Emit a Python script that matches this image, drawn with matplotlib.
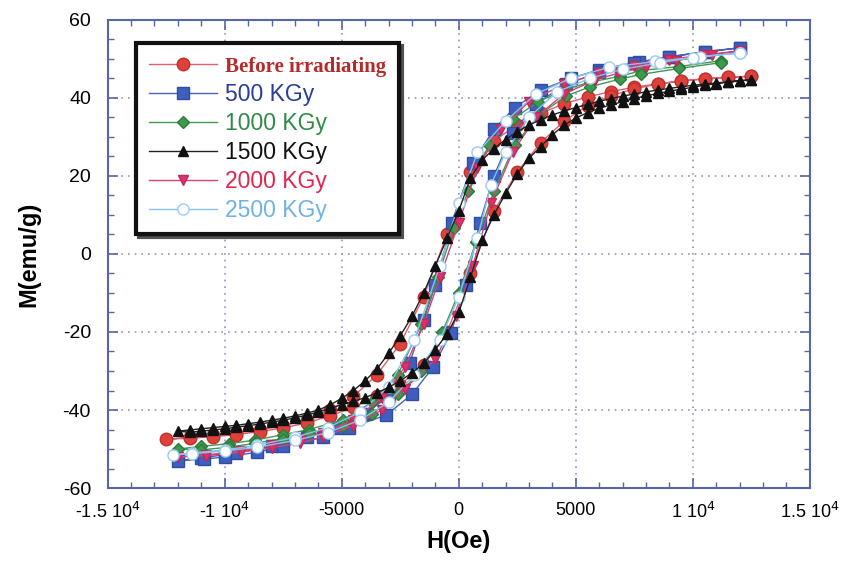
import matplotlib
matplotlib.use("Agg")
import matplotlib.pyplot as plt
from matplotlib.ticker import MultipleLocator, FixedLocator, FixedFormatter

plt.rcParams['font.family'] = ['Liberation Sans', 'DejaVu Sans']
plt.rcParams['axes.unicode_minus'] = False

# ---- data (H in Oe, M in emu/g) ----
# each loop: descending branch (+H -> -H) followed by ascending branch (-H -> +H)

# Before irradiating
h_before = [12500, 11500, 10500, 9500, 8500, 7500, 6500, 5500, 4500, 3500, 2500, 1500, 500,
            -500, -1500, -2500, -3500, -4500, -5500, -6500, -7500, -8500, -9500, -10500, -11500, -12500,
            -11500, -10500, -9500, -8500, -7500, -6500, -5500, -4500, -3500, -2500, -1500, -500,
            500, 1500, 2500, 3500, 4500, 5500, 6500, 7500, 8500, 9500, 10500, 11500, 12500]
m_before = [45.5, 45.2, 44.8, 44.3, 43.6, 42.7, 41.6, 40.2, 38.5, 36.0, 33.0, 29.0, 21.0,
            5.0, -11.0, -23.0, -31.0, -36.5, -40.0, -42.5, -44.0, -45.0, -45.8, -46.5, -47.0, -47.5,
            -47.2, -46.8, -46.3, -45.5, -44.6, -43.3, -41.5, -39.3, -36.5, -33.5, -28.5, -20.0,
            -5.0, 11.0, 21.0, 28.5, 34.0, 38.0, 40.5, 42.3, 43.5, 44.3, 44.9, 45.3, 45.5]

# 500 KGy
h_500 = [12000, 10500, 9000, 7700, 6000, 4800, 3500, 2400, 1500, 600, -300, -1000, -1500, -2100,
         -3000, -4000, -5200, -6500, -8000, -9500, -11000, -12000,
         -10900, -10000, -8600, -7500, -5800, -4700, -3100, -2000, -1100, -340, 300, 900, 1500,
         2300, 3300, 4600, 6000, 7500, 9000, 10500, 12000]
m_500 = [52.8, 51.7, 50.5, 49.2, 47.2, 45.0, 42.0, 37.5, 32.0, 23.3, 8.0, -8.0, -17.0, -28.0,
         -36.5, -41.0, -44.5, -47.0, -49.3, -51.0, -52.3, -53.0,
         -52.6, -52.0, -50.8, -49.2, -47.0, -44.6, -41.3, -36.0, -29.0, -20.3, -8.0, 8.0, 20.0,
         31.0, 38.5, 43.5, 46.5, 48.8, 50.5, 51.8, 52.8]

# 1000 KGy
h_1000 = [11200, 9400, 7800, 6900, 5600, 4500, 3400, 2300, 1300, 400, -210, -900, -1600, -2600,
          -3700, -4950, -6400, -7500, -8700, -9800, -11000, -12000,
          -11000, -9800, -8700, -7500, -6400, -4950, -3700, -2600, -1600, -700, 0, 730, 1500,
          2400, 3400, 4600, 5600, 6900, 7800, 9400, 11200]
m_1000 = [49.5, 48.0, 47.0, 45.5, 44.0, 42.0, 39.0, 34.5, 28.0, 16.0, 6.7, -6.0, -18.0, -31.0,
          -38.0, -42.5, -45.0, -46.3, -47.7, -48.6, -49.3, -50.0,
          -50.2, -49.5, -48.5, -47.3, -46.0, -44.0, -41.0, -36.0, -30.0, -20.0, -10.0, 3.0, 16.0,
          28.0, 35.5, 40.5, 42.8, 44.8, 46.0, 47.5, 49.0]

# 1500 KGy
h_1500 = [12500, 12000, 11500, 11000, 10500, 10000, 9500, 9000, 8500, 8000, 7500, 7000, 6500,
          6000, 5500, 5000, 4500, 4000, 3500, 3000, 2500, 2000, 1500, 1000, 500, 0, -500, -1000,
          -1500, -2000, -2500, -3000, -3500, -4000, -4500, -5000, -5500, -6000, -6500, -7000,
          -7500, -8000, -8500, -9000, -9500, -10000, -10500, -11000, -11500, -12000,
          -11500, -11000, -10500, -10000, -9500, -9000, -8500, -8000, -7500, -7000, -6500,
          -6000, -5500, -5000, -4500, -4000, -3500, -3000, -2500, -2000, -1500, -1000, -500, 0,
          500, 1000, 1500, 2000, 2500, 3000, 3500, 4000, 4500, 5000, 5500, 6000, 6500, 7000,
          7500, 8000, 8500, 9000, 9500, 10000, 10500, 11000, 11500, 12000, 12500]
m_1500 = [44.6, 44.4, 44.1, 43.8, 43.5, 43.2, 42.8, 42.4, 42.0, 41.5, 41.0, 40.4, 39.8,
          39.1, 38.3, 37.5, 36.6, 35.6, 34.4, 33.0, 31.3, 29.3, 27.0, 24.0, 19.5, 11.0, 4.0, -3.0,
          -10.0, -16.0, -21.0, -25.5, -29.5, -32.5, -35.0, -37.0, -38.7, -40.0, -40.8, -41.5,
          -42.1, -42.6, -43.1, -43.5, -43.9, -44.2, -44.5, -44.8, -45.1, -45.4,
          -45.7, -45.4, -45.1, -44.8, -44.4, -44.0, -43.6, -43.1, -42.6, -42.0, -41.3,
          -40.5, -39.6, -38.6, -37.8, -36.8, -35.6, -34.2, -32.5, -30.5, -28.0, -24.5, -20.5, -15.0,
          -6.0, 3.5, 10.0, 15.5, 20.5, 24.5, 27.5, 30.5, 33.0, 34.8, 36.2, 37.3, 38.2, 39.0,
          39.8, 40.5, 41.1, 41.7, 42.2, 42.7, 43.2, 43.6, 44.0, 44.3, 44.6]

# 2000 KGy
h_2000 = [12000, 10500, 9000, 7500, 6000, 4500, 3000, 1800, 800, 0, -800, -1500, -2300, -3300,
          -4500, -5800, -6800, -8000, -9300, -10800, -12000,
          -10800, -9300, -8000, -6800, -5800, -4500, -3300, -2300, -1000, -100, 600, 1370, 2300,
          3300, 4500, 5800, 6800, 8000, 9300, 10800, 12000]
m_2000 = [52.0, 51.0, 49.8, 48.2, 46.3, 43.5, 39.0, 32.0, 22.0, 8.0, -6.0, -18.0, -29.0, -37.0,
          -42.5, -45.8, -47.5, -49.0, -50.5, -51.5, -52.0,
          -51.7, -50.8, -49.6, -48.5, -46.8, -44.0, -40.0, -34.5, -27.0, -16.0, -3.0, 13.0, 26.0,
          35.0, 41.0, 44.5, 46.3, 48.0, 49.5, 51.0, 52.0]

# 2500 KGy
h_2500 = [12000, 10300, 8400, 6400, 4800, 3300, 2000, 800, 0, -800, -1900, -3000, -4200, -5600,
          -7000, -8600, -10000, -11400, -12200,
          -11400, -10000, -8600, -7000, -5600, -4200, -3000, -1900, -800, 0, 800, 1370, 2000,
          3000, 4200, 5600, 7000, 8600, 10000, 12000]
m_2500 = [51.5, 50.5, 49.3, 47.8, 45.0, 41.0, 34.0, 26.0, 13.0, -3.0, -22.0, -34.0, -40.5, -44.5,
          -47.0, -49.0, -50.2, -51.0, -51.5,
          -51.2, -50.5, -49.5, -47.8, -45.8, -42.5, -38.0, -31.0, -22.0, -11.0, 4.0, 17.7, 26.0,
          35.0, 41.5, 45.0, 47.3, 49.0, 50.3, 51.5]

labels = ['Before irradiating', '500 KGy', '1000 KGy', '1500 KGy', '2000 KGy', '2500 KGy']

x_ticks = [-15000, -10000, -5000, 0, 5000, 10000, 15000]
x_tick_labels = ['-1.5 10$^4$', '-1 10$^4$', '-5000', '0', '5000', '1 10$^4$', '1.5 10$^4$']
y_ticks = [-60, -40, -20, 0, 20, 40, 60]


def main():
    fig = plt.figure(figsize=(8.41, 5.63), dpi=100)
    ax = fig.add_axes([0.128, 0.133, 0.835, 0.832])

    frame = '#5566aa'
    ax.grid(True, linestyle=(0, (1, 3)), color='#8c96c8', linewidth=1.2)
    ax.set_axisbelow(True)

    ax.plot(h_before, m_before, '-o', color='#e06070', mfc='#e0403a', mec='#c03030',
            ms=9, lw=1.0, label=labels[0], zorder=3)
    ax.plot(h_500, m_500, '-s', color='#4a62b8', mfc='#3e5fbf', mec='#2f4ea0',
            ms=9, lw=1.0, label=labels[1], zorder=3)
    ax.plot(h_1000, m_1000, '-D', color='#3f9a55', mfc='#3c9a4c', mec='#2c7a3a',
            ms=6.5, lw=1.0, label=labels[2], zorder=3)
    ax.plot(h_2000, m_2000, '-v', color='#d8407a', mfc='#e0306a', mec='#c02858',
            ms=7, lw=1.0, label=labels[4], zorder=3)
    ax.plot(h_2500, m_2500, '-o', color='#86c2ee', mfc='white', mec='#9ccbf0',
            ms=8, lw=1.0, label=labels[5], zorder=3)
    ax.plot(h_1500, m_1500, '-^', color='#222222', mfc='#111111', mec='#111111',
            ms=7.5, lw=1.0, label=labels[3], zorder=4)

    ax.set_xlim(-15000, 15000)
    ax.set_ylim(-60, 60)
    ax.xaxis.set_major_locator(FixedLocator(x_ticks))
    ax.xaxis.set_major_formatter(FixedFormatter(x_tick_labels))
    ax.xaxis.set_minor_locator(MultipleLocator(1000))
    ax.yaxis.set_major_locator(FixedLocator(y_ticks))
    ax.yaxis.set_minor_locator(MultipleLocator(5))
    ax.tick_params(which='both', direction='in', top=True, right=True, color=frame)
    ax.tick_params(axis='x', pad=10, labelsize=13)
    ax.tick_params(axis='y', pad=12, labelsize=14)
    ax.tick_params(which='major', length=7, width=1.2)
    ax.tick_params(which='minor', length=4, width=1.0)
    for sp in ax.spines.values():
        sp.set_color(frame)
        sp.set_linewidth(1.5)

    ax.set_xlabel('H(Oe)', fontsize=17, fontweight='bold', labelpad=6)
    ax.set_ylabel('M(emu/g)', fontsize=17, fontweight='bold', labelpad=16)

    handles, labs = ax.get_legend_handles_labels()
    order = [labs.index(l) for l in labels]
    leg = ax.legend([handles[i] for i in order], [labs[i] for i in order],
                    loc='upper left', bbox_to_anchor=(0.024, 0.974), fontsize=16.5,
                    handlelength=3.0, handletextpad=0.35, labelspacing=0.26,
                    borderpad=0.55, fancybox=False, framealpha=1, edgecolor='#111111',
                    shadow={'color': '0.25', 'alpha': 0.9})
    leg.get_frame().set_linewidth(3)
    colors = ['#b52a2a', '#2a3c9c', '#2f8a45', '#111111', '#e0264e', '#6fb2e6']
    for t, c in zip(leg.get_texts(), colors):
        t.set_color(c)
    leg.get_texts()[0].set_family(['Liberation Serif', 'DejaVu Serif'])
    leg.get_texts()[0].set_fontweight('bold')
    leg.get_texts()[0].set_fontsize(15)

    fig.savefig('out.png', dpi=100)


if __name__ == "__main__":
    main()
